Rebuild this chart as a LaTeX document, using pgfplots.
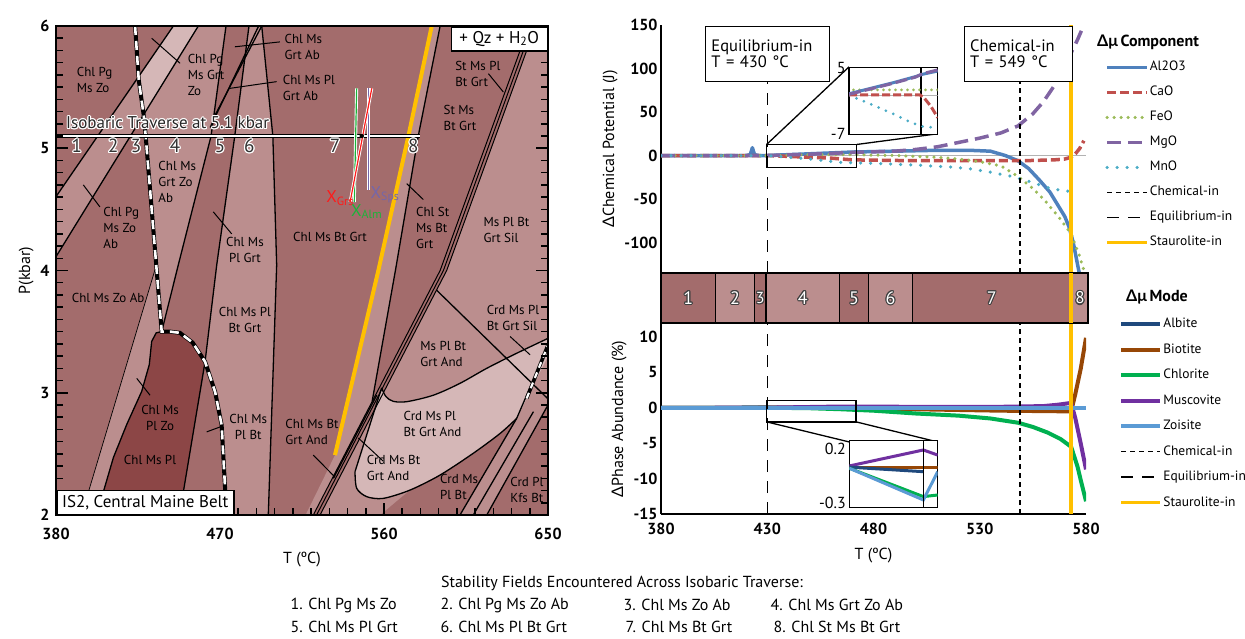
\documentclass[border=0pt]{standalone}
\usepackage{pgfplots}
\pgfplotsset{compat=1.18}
\usepackage{fontspec}
\setmainfont{PT Sans}
\newfontfamily\grk{Lato}
\usetikzlibrary{shapes.geometric}

\definecolor{cmain}{HTML}{A36C6C}
\definecolor{cmed}{HTML}{BB8E8E}
\definecolor{clight}{HTML}{D5B7B7}
\definecolor{cdark}{HTML}{8C4646}
\definecolor{calo}{HTML}{4F81BD}
\definecolor{ccao}{HTML}{C0504D}
\definecolor{cfeo}{HTML}{9BBB59}
\definecolor{cmgo}{HTML}{8064A2}
\definecolor{cmno}{HTML}{4BACC6}
\definecolor{cstau}{HTML}{FFC000}
\definecolor{calb}{HTML}{1F497D}
\definecolor{cbio}{HTML}{974706}
\definecolor{cchl}{HTML}{00B050}
\definecolor{cmus}{HTML}{7030A0}
\definecolor{czoi}{HTML}{5B9BD5}
\definecolor{xgrs}{HTML}{FF1A1A}
\definecolor{xalm}{HTML}{1DB33A}
\definecolor{xsps}{HTML}{7466AA}

\newcommand{\fs}[1]{\fontsize{#1}{#1}\selectfont}
\newcommand{\lab}{\fontsize{13}{16}\selectfont}
\newcommand{\halo}[5]{%
  \foreach \a in {0,30,...,330}{\node[#2,text=#3] at ([shift={(\a:1.1pt)}]#1) {#5};}
  \node[#2,text=#4] at (#1) {#5};}
\pgfdeclareplotmark{fstar}{\node[star,star points=5,star point ratio=2.4,fill=black,draw=white,line width=0.4pt,inner sep=0pt,minimum size=13pt] {};}

\begin{document}
\begin{tikzpicture}
\useasboundingbox (0,0) rectangle (1245pt,638pt);

%================ LEFT PANEL ================
\begin{axis}[at={(56pt,123pt)}, anchor=south west, width=492pt, height=489pt, scale only axis,
  xmin=380, xmax=650, ymin=2, ymax=6, axis on top,
  xtick={380,470,560,650}, xticklabels={380,470,560,650},
  ytick={2,3,4,5,6}, yticklabels={2,3,4,5,6},
  minor x tick num=8, minor y tick num=9,
  tick align=inside, xtick pos=left, ytick pos=both,
  major tick length=12pt, minor tick length=7pt,
  major tick style={black, line width=1.8pt},
  minor tick style={black, line width=1.5pt},
  axis line style={line width=1.8pt},
  tick label style={font=\bfseries\fs{16}},
  xticklabel style={yshift=-10pt}, yticklabel style={xshift=-3pt},
  /pgf/number format/assume math mode=true,
  xlabel={T (ºC)}, ylabel={P(kbar)}, label style={font=\fs{16}},
  xlabel style={yshift=-5pt},
  no markers]
% background
\addplot[fill=cmain,draw=none] coordinates {(380,2)(650,2)(650,6)(380,6)} -- cycle;
% lightest strip
\addplot[fill=clight,draw=none] coordinates {(425.2,5.57)(444.4,6)(458.1,6)(428.3,5.28)} -- cycle;
% Chl Pg Ms Zo Ab strip
\addplot[fill=cmed,draw=none] coordinates {(380,4.604)(425.2,5.57)(428.3,5.28)(380,4.113)} -- cycle;
% Chl Ms Grt Zo Ab
\addplot[fill=cmed,draw=none] coordinates {(428.3,5.28)(458.1,6)(473.3,6)(465.1,5.1)(447.1,4.045)(438,3.5)(433,4.4)} -- cycle;
% Chl Ms Pl Zo strip
\addplot[fill=cmed,draw=none] coordinates {(394,2)(435,4.04)(438,3.5)(435,3.49)(432.5,3.42)(431.2,3.23)(427,3.01)(418.8,2.74)(411.5,2.47)(406,2.19)(404,2)} -- cycle;
% Chl Ms Pl (dark)
\addplot[fill=cdark,draw=none] coordinates {(404,2)(406,2.19)(411.5,2.47)(418.8,2.74)(427,3.01)(431.2,3.23)(432.5,3.42)(435,3.49)(438,3.5)(442.6,3.5)(448,3.49)(455,3.41)(461.8,3.254)(449.9,2.19)(449,2)} -- cycle;
% Chl Ms Pl Bt Grt
\addplot[fill=cmed,draw=none] coordinates {(485.9,6)(492.9,6)(499,5.1)(501.1,4.045)(496.5,2)(473,2)(472.8,2.218)(470.9,2.736)(467.3,3.009)(461.8,3.254)(468.2,4.045)(478.1,5.1)} -- cycle;
% Chl St Ms Bt Grt strip
\addplot[fill=cmed,draw=none] coordinates {(586.2,6)(590.8,6)(578.8,5.1)(566.5,4.02)(553.5,2.93)(521.2,2)(517,2)(533.1,2.49)(556.9,4.0)(573.4,5.1)} -- cycle;
% right medium area
\addplot[fill=cmed,draw=none] coordinates {(643.2,6)(650,6)(650,2)(524.9,2)(594.4,4.0)} -- cycle;
% Crd Ms Pl Bt Grt And (light)
\addplot[fill=clight,draw=none] coordinates {(558.7,3.04)(561,2.97)(565,2.93)(572.5,2.927)(587.1,2.98)(601.7,3.077)(616.4,3.2)(632.8,3.323)(650,3.445)(650,3.3)(632.8,2.79)(623.7,2.667)(609,2.505)(590.8,2.327)(574.3,2.204)(559.6,2.136)(550.5,2.15)(545,2.219)(544.1,2.355)} -- cycle;
% Crd Ms Pl Bt, Crd Pl Kfs Bt
\addplot[fill=cmain,draw=none] coordinates {(558,2)(574.3,2.204)(590.8,2.327)(609,2.505)(623.7,2.667)(632.8,2.79)(601.7,2)} -- cycle;
\addplot[fill=cmain,draw=none] coordinates {(616.4,2)(650,2.9)(650,2)} -- cycle;

% boundaries
\addplot[black,line width=1.3pt] coordinates {(380,4.604)(444.4,6)};
\addplot[black,line width=1.3pt] coordinates {(380,4.113)(458.1,6)};
\addplot[black,line width=1.3pt] coordinates {(473.3,6)(465.1,5.1)(447.1,4.045)(438,3.5)};
\addplot[black,line width=1.3pt] coordinates {(485.9,6)(478.1,5.1)(468.2,4.045)(461.8,3.254)(449.9,2.19)(449,2)};
\addplot[black,line width=1.3pt] coordinates {(492.9,6)(499,5.1)(501.1,4.045)(496.5,2)};
\addplot[black,line width=0.7pt] coordinates {(394,2)(435,4.04)};
\addplot[black,line width=1.3pt] coordinates {(404,2)(406,2.19)(411.5,2.47)(418.8,2.74)(427,3.01)(431.2,3.23)(432.5,3.42)(435,3.49)(438,3.5)};
\addplot[black,line width=1.3pt] coordinates {(466.4,5.245)(492.9,6)};
\addplot[black,line width=1.3pt] coordinates {(464.6,5.17)(491.2,6)};
\addplot[black,line width=1.3pt] coordinates {(590.8,6)(578.8,5.1)(566.5,4.02)(553.5,2.93)};
\addplot[black,line width=1pt] coordinates {(639.6,6)(590.8,4.0)(521.2,2)};
\addplot[black,line width=1pt] coordinates {(641.4,6)(592.6,4.0)(523,2)};
\addplot[black,line width=1pt] coordinates {(643.2,6)(594.4,4.0)(524.9,2)};
\addplot[black,line width=1.3pt] coordinates {(588.8,3.84)(650,2.95)};
\addplot[black,line width=1.3pt,smooth] coordinates {(558.7,3.04)(561,2.97)(565,2.93)(572.5,2.927)(587.1,2.98)(601.7,3.077)(616.4,3.2)(632.8,3.323)(650,3.445)};
\addplot[black,line width=1.3pt,smooth] coordinates {(544.1,2.355)(545,2.219)(550.5,2.15)(559.6,2.136)(574.3,2.204)(590.8,2.327)(609,2.505)(623.7,2.667)(632.8,2.79)};
\addplot[black,line width=1.3pt] coordinates {(544.1,2.355)(558.7,3.04)};
\addplot[black,line width=1.3pt] coordinates {(556,2.98)(532.2,2.30)};
\addplot[black,line width=1.3pt] coordinates {(601.7,2)(632.8,2.79)(649.3,3.36)};
\addplot[black,line width=1.3pt] coordinates {(609,2)(642,2.845)};
\addplot[black,line width=1.3pt] coordinates {(616.4,2)(650,2.9)};
% Grt-in dashed
\addplot[black,line width=4pt] coordinates {(423.4,6)(425.4,5.56)(428.5,5.23)(438,3.5)(442.6,3.5)(448,3.49)(455,3.41)(461.8,3.254)(467.3,3.009)(470.9,2.736)(472.8,2.218)(473,2)};
\addplot[white,line width=2.6pt,dash pattern=on 9pt off 6pt] coordinates {(423.4,6)(425.4,5.56)(428.5,5.23)(438,3.5)(442.6,3.5)(448,3.49)(455,3.41)(461.8,3.254)(467.3,3.009)(470.9,2.736)(472.8,2.218)(473,2)};
\addplot[black,line width=3.6pt] coordinates {(638.3,2.954)(650,3.39)};
\addplot[white,line width=2.2pt,dash pattern=on 6pt off 5pt] coordinates {(638.3,2.954)(650,3.39)};
% St-in
\addplot[cstau,line width=4pt] coordinates {(586.2,6)(573.4,5.1)(556.9,4.0)(533.1,2.49)};
% leaders
\addplot[black,line width=1pt] coordinates {(432.5,5.90)(448.1,5.695)};
\addplot[black,line width=1pt] coordinates {(478.2,5.83)(502.9,5.87)};
\addplot[black,line width=1pt] coordinates {(475.5,5.49)(501.1,5.545)};
\addplot[black,line width=1pt] coordinates {(395,4.70)(404.1,4.52)};
\addplot[black,line width=1pt] coordinates {(466.3,4.48)(476.4,4.30)};
\addplot[black,line width=1pt] coordinates {(424.3,3.118)(431.6,2.98)};
\addplot[black,line width=1pt] coordinates {(462.7,2.68)(470,2.72)};
\addplot[black,line width=1pt] coordinates {(617.3,5.61)(625.5,5.46)};
\addplot[black,line width=1pt] coordinates {(572.5,4.71)(581.6,4.58)};
\addplot[black,line width=1pt] coordinates {(629.2,3.46)(640.2,3.31)};
\addplot[black,line width=1pt] coordinates {(545.9,2.63)(559.6,2.44)};
\addplot[black,line width=1pt] coordinates {(521.2,2.49)(533.1,2.31)};
% traverse
\addplot[black,line width=4pt] coordinates {(380,5.1)(580,5.1)};
\addplot[white,line width=2pt] coordinates {(380,5.1)(580,5.1)};
% garnet composition lines
\addplot[white,line width=3pt] coordinates {(545,5.49)(543.7,4.56)};
\addplot[xalm,line width=1.2pt] coordinates {(545,5.49)(543.7,4.56)};
\addplot[white,line width=3pt] coordinates {(551.4,5.49)(551.4,4.66)};
\addplot[xsps,line width=1.2pt] coordinates {(551.4,5.49)(551.4,4.66)};
\addplot[white,line width=3pt] coordinates {(553.3,5.49)(541.4,4.56)};
\addplot[xgrs,line width=1.2pt] coordinates {(553.3,5.49)(541.4,4.56)};
\addplot[only marks,mark=fstar] coordinates {(547.8,5.1)};

% field labels
\node[font=\lab,align=left,anchor=west] at (axis cs:389.5,5.558) {Chl Pg\\Ms Zo};
\node[font=\lab,align=left,anchor=west] at (axis cs:450.4,5.60) {Chl Pg\\Ms Grt\\Zo};
\node[font=\lab,align=left,anchor=west] at (axis cs:434.3,4.726) {Chl Ms\\Grt Zo\\Ab};
\node[font=\lab,align=left,anchor=west] at (axis cs:404.1,4.345) {Chl Pg\\Ms Zo\\Ab};
\node[font=\lab,align=center] at (axis cs:483.7,4.168) {Chl Ms\\Pl Grt};
\node[font=\lab,align=left,anchor=west] at (axis cs:503.5,5.83) {Chl Ms\\Grt Ab};
\node[font=\lab,align=left,anchor=west] at (axis cs:502.6,5.49) {Chl Ms Pl\\Grt Ab};
\node[font=\lab,align=left,anchor=west] at (axis cs:597.2,5.61) {St Ms Pl\\Bt Grt};
\node[font=\lab,align=left,anchor=west] at (axis cs:590.8,5.245) {St Ms\\Bt Grt};
\node[font=\lab,align=left,anchor=west] at (axis cs:575.7,4.345) {Chl St\\Ms Bt\\Grt};
\node[font=\lab,align=left,anchor=west] at (axis cs:612.7,4.33) {Ms Pl Bt\\Grt Sil};
\node[font=\lab] at (axis cs:530.4,4.276) {Chl Ms Bt Grt};
\node[font=\lab,anchor=west] at (axis cs:386.8,3.773) {Chl Ms Zo Ab};
\node[font=\lab,align=center] at (axis cs:483.7,3.595) {Chl Ms Pl\\Bt Grt};
\node[font=\lab,align=center] at (axis cs:437.1,2.79) {Chl Ms\\Pl Zo};
\node[font=\lab] at (axis cs:431.6,2.45) {Chl Ms Pl};
\node[font=\lab,align=center] at (axis cs:485.5,2.72) {Chl Ms\\Pl Bt};
\node[font=\lab,align=left,anchor=west] at (axis cs:504,2.68) {Chl Ms Bt\\Grt And};
\node[font=\lab,align=left,anchor=west] at (axis cs:578,3.32) {Ms Pl Bt\\Grt And};
\node[font=\lab,align=left,anchor=west] at (axis cs:568.8,2.742) {Crd Ms Pl\\Bt Grt And};
\node[font=\lab,align=left,anchor=west] at (axis cs:548.7,2.382) {Crd Ms Bt\\Grt And};
\node[font=\lab,align=left,anchor=west] at (axis cs:588.9,2.232) {Crd Ms\\Pl Bt};
\node[font=\lab,align=left,anchor=west] at (axis cs:627.4,2.205) {Crd Pl\\Kfs Bt};
\node[font=\lab,align=left,anchor=west] at (axis cs:614.5,3.61) {Crd Ms Pl\\Bt Grt Sil};
\node[font=\fs{17},text=xgrs] at (axis cs:535.9,4.59) {X\textsubscript{Grs}};
\node[font=\fs{17},text=xalm] at (axis cs:550.5,4.48) {X\textsubscript{Alm}};
\node[font=\fs{17},text=xsps] at (axis cs:560.6,4.62) {X\textsubscript{Sps}};
\node[font=\bfseries\fs{16}] at (rel axis cs:0.1646,1) [yshift=14pt] {Grt-in};
\node[font=\bfseries\fs{16}] at (rel axis cs:0.760,1) [yshift=14pt] {St-in};
\coordinate (lne) at (rel axis cs:1,1);
\coordinate (lsw) at (rel axis cs:0,0);
\coordinate (trv) at (axis cs:385.5,5.207);
\coordinate (n1) at (axis cs:391.4,5.018);
\coordinate (n2) at (axis cs:411.4,5.018);
\coordinate (n3) at (axis cs:423.9,5.018);
\coordinate (n4) at (axis cs:445.3,5.018);
\coordinate (n5) at (axis cs:470,5.018);
\coordinate (n6) at (axis cs:486.1,5.018);
\coordinate (n7) at (axis cs:533.1,5.018);
\coordinate (n8) at (axis cs:576.1,5.018);
\end{axis}
\node[draw,fill=white,line width=1.5pt,anchor=north east,font=\fs{17},minimum width=96pt,minimum height=24pt,inner sep=2pt] at (lne) {+ Qz + H\textsubscript{2}O};
\node[draw,fill=white,line width=1.5pt,anchor=south west,font=\fs{17},minimum width=177pt,minimum height=24pt,inner sep=2pt] at (lsw) {IS2, Central Maine Belt};
\halo{trv}{font=\fs{17},anchor=west,inner sep=0pt}{white}{black!85}{Isobaric Traverse at 5.1 kbar}
\halo{n1}{font=\fs{19}}{white}{black!80}{1}
\halo{n2}{font=\fs{19}}{white}{black!80}{2}
\halo{n3}{font=\fs{19}}{white}{black!80}{3}
\halo{n4}{font=\fs{19}}{white}{black!80}{4}
\halo{n5}{font=\fs{19}}{white}{black!80}{5}
\halo{n6}{font=\fs{19}}{white}{black!80}{6}
\halo{n7}{font=\fs{19}}{white}{black!80}{7}
\halo{n8}{font=\fs{19}}{white}{black!80}{8}

%================ RIGHT TOP ================
\begin{axis}[at={(661pt,365pt)}, anchor=south west, width=425pt, height=248pt, scale only axis,
  xmin=380, xmax=580, ymin=-135, ymax=150,
  axis x line=none, axis y line*=left, axis line style={-,line width=1.5pt},
  ytick={-100,-50,0,50,100,150}, yticklabels={-100,-50,0,50,100,150},
  major tick length=0pt, tick label style={font=\bfseries\fs{16}},
  ylabel={{\grk Δ}Chemical Potential (J)}, label style={font=\fs{16}},
  no markers,
  legend style={draw=none, fill=none, at={(rel axis cs:1.045,0.86)}, anchor=north west, inner sep=0pt,
    font=\fs{13.5}, row sep=10pt, nodes={inner sep=1pt, text height=10pt, text depth=3pt}},
  legend cell align=left,
  legend image code/.code={\draw[#1] (0pt,0pt) -- (40pt,0pt);}]
\addplot[gray!60,line width=0.8pt,forget plot] coordinates {(380,0)(580,0)};
\addplot[calo,line width=3.5pt,line join=round] coordinates {(380,0)(400,0)(420,0)(422,1)(423,9)(424,1)(426,0)(430,0)(440,1)(450,2)(460,3)(470,4)(490,5)(510,6)(525,6)(535,5)(542,0)(548,-6)(553,-15)(558,-28)(563,-42)(567,-58)(570,-70)(572,-82)(574,-100)(576,-125)(577,-137)};
\addlegendentry{Al2O3}
\addplot[ccao,line width=3.5pt,dash pattern=on 9pt off 4pt] coordinates {(380,0)(430,0)(440,-1)(460,-3)(470,-5)(500,-6)(530,-6)(550,-6)(565,-5)(570,-4)(573,-2)(575,2)(577,8)(579,17)};
\addlegendentry{CaO}
\addplot[cfeo,line width=3.5pt,line cap=round,dash pattern=on 0pt off 7pt] coordinates {(380,0)(420,0)(430,0)(450,1)(470,1)(490,0)(500,-1)(510,-2)(520,-4)(530,-7)(540,-12)(548,-24)(555,-38)(560,-50)(567,-70)(573,-90)(577,-116)(579,-132)};
\addlegendentry{FeO}
\addplot[cmgo,line width=3.5pt,dash pattern=on 14pt off 7pt] coordinates {(380,0)(430,0)(450,1.5)(470,3.5)(490,5)(500,7)(510,10)(520,15)(530,20)(540,26)(548,34)(555,48)(560,62)(565,80)(570,103)(573,118)(576,133)(579,150)};
\addlegendentry{MgO}
\addplot[cmno,line width=3.5pt,line cap=round,dash pattern=on 0pt off 10pt] coordinates {(380,0)(430,0)(440,-2)(450,-4)(465,-8)(480,-9)(500,-11)(515,-13)(525,-15)(535,-19)(545,-24)(555,-31)(562,-37)(568,-40)(572,-41)(576,-41)};
\addlegendentry{MnO}
\addplot[black,line width=1.3pt,dash pattern=on 5pt off 4pt] coordinates {(549,-135)(549,85)};
\addlegendentry{Chemical-in}
\addplot[black,line width=1.3pt,dash pattern=on 12pt off 9pt] coordinates {(430,-135)(430,85)};
\addlegendentry{Equilibrium-in}
\addplot[cstau,line width=3.5pt] coordinates {(573,-135)(573,150)};
\addlegendentry{Staurolite-in}
\draw[line width=1.3pt] (axis cs:429.7,-13.5) rectangle (axis cs:472.1,12.7);
\draw[line width=1.3pt] (axis cs:429.7,12.7) -- (axis cs:468.5,101.9);
\draw[line width=1.3pt] (axis cs:472.1,12.7) -- (axis cs:510.2,25.0);
\node[draw,fill=white,line width=1.3pt,align=left,font=\fs{16.5},text width=112pt,minimum height=55pt,inner sep=6pt] at (axis cs:430.1,117) {Equilibrium-in\\T = 430 °C};
\node[draw,fill=white,line width=1.3pt,align=left,font=\fs{16.5},text width=96pt,minimum height=55pt,inner sep=6pt] at (axis cs:548.1,117) {Chemical-in\\T = 549 °C};
\end{axis}

%================ BAND ================
\begin{axis}[at={(661pt,315pt)}, anchor=south west, width=425pt, height=50pt, scale only axis,
  xmin=380, xmax=580, ymin=0, ymax=1, hide axis, clip=false, no markers]
\addplot[fill=cmain,draw=black,line width=1.5pt] coordinates {(380,0)(405.7,0)(405.7,1)(380,1)} -- cycle;
\addplot[fill=cmed,draw=black,line width=1.5pt] coordinates {(405.7,0)(423.9,0)(423.9,1)(405.7,1)} -- cycle;
\addplot[fill=cmain,draw=black,line width=1.5pt] coordinates {(423.9,0)(429.5,0)(429.5,1)(423.9,1)} -- cycle;
\addplot[fill=cmed,draw=black,line width=1.5pt] coordinates {(429.5,0)(464,0)(464,1)(429.5,1)} -- cycle;
\addplot[fill=cmain,draw=black,line width=1.5pt] coordinates {(464,0)(477.7,0)(477.7,1)(464,1)} -- cycle;
\addplot[fill=cmed,draw=black,line width=1.5pt] coordinates {(477.7,0)(498.3,0)(498.3,1)(477.7,1)} -- cycle;
\addplot[fill=cmain,draw=black,line width=1.5pt] coordinates {(498.3,0)(573,0)(573,1)(498.3,1)} -- cycle;
\addplot[fill=cmed,draw=black,line width=1.5pt] coordinates {(573,0)(581,0)(581,1)(573,1)} -- cycle;
\addplot[cstau,line width=3.5pt] coordinates {(573,0)(573,1)};
\coordinate (b1) at (axis cs:392.85,0.5);
\coordinate (b2) at (axis cs:414.8,0.5);
\coordinate (b3) at (axis cs:426.7,0.5);
\coordinate (b4) at (axis cs:446.75,0.5);
\coordinate (b5) at (axis cs:470.85,0.5);
\coordinate (b6) at (axis cs:488,0.5);
\coordinate (b7) at (axis cs:535.65,0.5);
\coordinate (b8) at (axis cs:577.2,0.5);
\end{axis}
\halo{b1}{font=\fs{18}}{black!75}{white}{1}
\halo{b2}{font=\fs{18}}{black!75}{white}{2}
\halo{b3}{font=\fs{16}}{black!75}{white}{3}
\halo{b4}{font=\fs{18}}{black!75}{white}{4}
\halo{b5}{font=\fs{18}}{black!75}{white}{5}
\halo{b6}{font=\fs{18}}{black!75}{white}{6}
\halo{b7}{font=\fs{18}}{black!75}{white}{7}
\halo{b8}{font=\fs{17}}{black!75}{white}{8}

%================ RIGHT BOTTOM ================
\begin{axis}[at={(661pt,124pt)}, anchor=south west, width=425pt, height=190pt, scale only axis,
  xmin=380, xmax=580, ymin=-15, ymax=11.85,
  axis x line*=bottom, axis y line*=left, axis line style={-,line width=1.5pt},
  xtick={380,430,480,530,580}, xticklabels={380,430,480,530,580},
  ytick={-15,-10,-5,0,5,10}, yticklabels={-15,-10,-5,0,5,10},
  major tick length=0pt, tick label style={font=\bfseries\fs{16}},
  xticklabel style={yshift=-6pt},
  xlabel={T (ºC)}, ylabel={{\grk Δ}Phase Abundance (\%)}, label style={font=\fs{16}},
  xlabel style={yshift=-6pt},
  no markers,
  legend style={draw=none, fill=none, at={(rel axis cs:1.078,1.04)}, anchor=north west, inner sep=0pt,
    font=\fs{13.5}, row sep=10.5pt, nodes={inner sep=1pt, text height=10pt, text depth=3pt}},
  legend cell align=left,
  legend image code/.code={\draw[#1] (0pt,0pt) -- (39pt,0pt);}]
\addplot[calb,line width=4pt] coordinates {(380,0)(430,0.02)(463,-0.01)(573,-0.05)};
\addlegendentry{Albite}
\addplot[cbio,line width=4pt] coordinates {(380,0)(470,0.03)(500,-0.2)(540,-0.4)(573,-0.5)(575,2)(577.5,5.5)(580,9.9)};
\addlegendentry{Biotite}
\addplot[cchl,line width=4pt] coordinates {(380,0)(430,0.02)(450,-0.05)(465,-0.2)(480,-0.4)(500,-0.8)(520,-1.1)(535,-1.5)(548,-2.1)(555,-2.7)(562,-3.5)(568,-4.4)(573,-5.5)(576,-8.3)(578,-10.8)(580,-13.2)};
\addlegendentry{Chlorite}
\addplot[cmus,line width=4pt] coordinates {(380,0)(430,0.03)(463,0.18)(500,0.15)(540,0.15)(560,0.25)(567,0.45)(573,0.7)(575,-1.5)(577.5,-5)(580,-8.7)};
\addlegendentry{Muscovite}
\addplot[czoi,line width=4pt] coordinates {(380,0)(573,0)(580,0)};
\addlegendentry{Zoisite}
\addplot[black,line width=1.3pt,dash pattern=on 5pt off 4pt] coordinates {(549,-15)(549,11.85)};
\addlegendentry{Chemical-in}
\addplot[black,line width=1.3pt,dash pattern=on 12pt off 9pt] coordinates {(430,-15)(430,11.85)};
\addlegendentry{Equilibrium-in}
\addplot[cstau,line width=3.5pt] coordinates {(573,-15)(573,11.85)};
\addlegendentry{Staurolite-in}
\draw[line width=1.3pt] (axis cs:429.7,-1.98) rectangle (axis cs:471.8,1.05);
\draw[line width=1.3pt] (axis cs:429.7,-1.98) -- (axis cs:468.6,-4.82);
\draw[line width=1.3pt] (axis cs:471.8,-1.98) -- (axis cs:510.2,-4.82);
\end{axis}

%================ INSETS ================
\begin{axis}[at={(849pt,503.7pt)}, anchor=south west, width=88.7pt, height=66.6pt, scale only axis,
  xmin=430, xmax=470, ymin=-7, ymax=5, xtick=\empty, ytick={-7,5}, yticklabels={-7,5},
  major tick length=0pt, tick label style={font=\fs{16}}, axis line style={line width=1.3pt},
  axis background/.style={fill=white}, no markers]
\addplot[gray!60,line width=0.8pt] coordinates {(430,0)(470,0)};
\addplot[black,line width=1.3pt] coordinates {(462.5,-7)(462.5,5)};
\addplot[cmno,line width=3pt,line cap=round,dash pattern=on 0pt off 8pt] coordinates {(430,0)(437,-1.1)(444,-2.3)(451,-3.5)(457,-4.7)(463,-5.6)(469,-5.8)};
\addplot[cfeo,line width=3pt,line cap=round,dash pattern=on 0pt off 6pt] coordinates {(430,0.3)(432,1.0)(470,1.0)};
\addplot[ccao,line width=3pt,dash pattern=on 8pt off 3pt] coordinates {(430,0.1)(462,0.1)(464,-0.5)(467,-2)(470,-4)};
\addplot[calo,line width=3pt] coordinates {(430,0.3)(440,1.3)(450,2.3)(460,3.4)(463,3.8)(470,4.4)};
\addplot[cmgo,line width=3pt,dash pattern=on 12pt off 4pt] coordinates {(430,0.2)(440,1.2)(450,2.2)(460,3.3)(463,3.9)(470,4.6)};
\end{axis}
\begin{axis}[at={(849.3pt,130.7pt)}, anchor=south west, width=88.4pt, height=66.6pt, scale only axis,
  xmin=430, xmax=470, ymin=-0.337, ymax=0.28, xtick=\empty, ytick={-0.3,0.2}, yticklabels={-0.3,0.2},
  major tick length=0pt, tick label style={font=\fs{16}}, axis line style={line width=1.3pt},
  axis background/.style={fill=white}, no markers]
\addplot[cmus,line width=3pt] coordinates {(430,0.046)(463.5,0.194)(470,0.147)};
\addplot[cbio,line width=3pt] coordinates {(430,0.03)(470,0.03)};
\addplot[calb,line width=3pt] coordinates {(430,0.035)(463.5,-0.007)};
\addplot[cchl,line width=3pt] coordinates {(430,0.025)(463.5,-0.238)(470,-0.223)};
\addplot[czoi,line width=3pt] coordinates {(430,0.025)(463.5,-0.269)(470,-0.007)};
\addplot[black,line width=1.3pt] coordinates {(463.5,-0.337)(463.5,0.28)};
\end{axis}

% legend titles
\node[font=\bfseries\fs{16}] at (1148pt,596pt) {{\grk Δμ}\,Component};
\node[font=\bfseries\fs{16}] at (1157pt,341pt) {{\grk Δμ}\,Mode};

% footer
\node[font=\fs{16}] at (622pt,55pt) {Stability Fields Encountered Across Isobaric Traverse:};
\node[font=\fs{16},anchor=west] at (287pt,33pt) {1. Chl Pg Ms Zo};
\node[font=\fs{16},anchor=west] at (437pt,33pt) {2. Chl Pg Ms Zo Ab};
\node[font=\fs{16},anchor=west] at (620pt,33pt) {3. Chl Ms Zo Ab};
\node[font=\fs{16},anchor=west] at (767pt,33pt) {4. Chl Ms Grt Zo Ab};
\node[font=\fs{16},anchor=west] at (287pt,11pt) {5. Chl Ms Pl Grt};
\node[font=\fs{16},anchor=west] at (437pt,11pt) {6. Chl Ms Pl Bt Grt};
\node[font=\fs{16},anchor=west] at (622pt,11pt) {7. Chl Ms Bt Grt};
\node[font=\fs{16},anchor=west] at (770pt,11pt) {8. Chl St Ms Bt Grt};
\end{tikzpicture}
\end{document}
